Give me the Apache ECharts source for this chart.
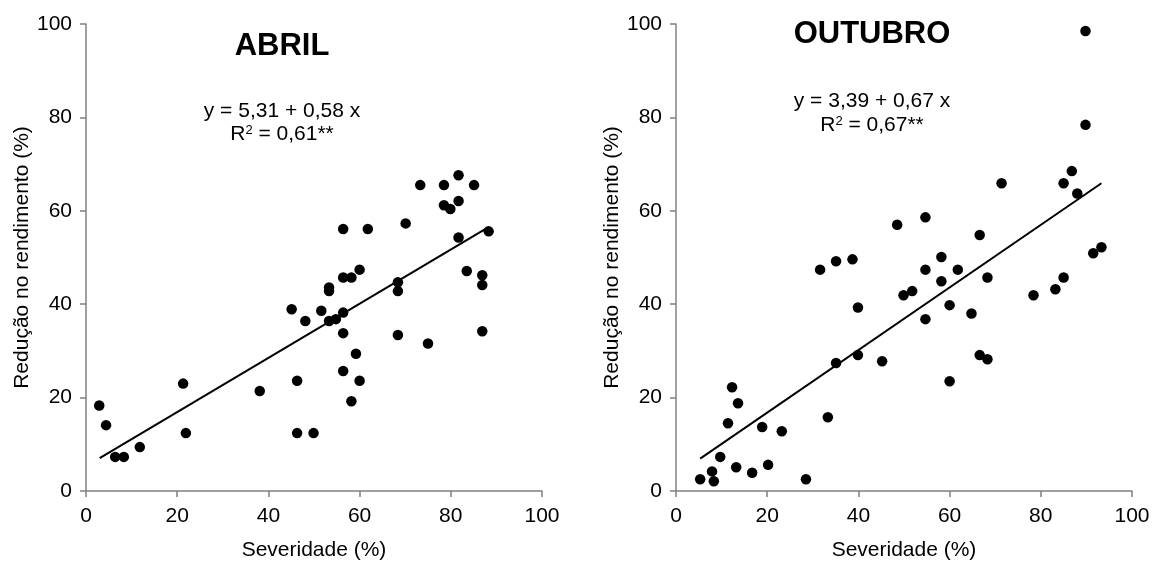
<!DOCTYPE html>
<html>
<head>
<meta charset="utf-8">
<script src="https://cdn.jsdelivr.net/npm/echarts@6/dist/echarts.min.js"></script>
<style>
html,body{margin:0;padding:0;background:#fff;}
#c{width:1155px;height:566px;}
</style>
</head>
<body>
<div id="c"></div>
<script>
// ---- Data ----
var panelTitles = ['ABRIL', 'OUTUBRO'];
var xTicks = [0, 20, 40, 60, 80, 100];
var yTicks = [0, 20, 40, 60, 80, 100];

var abrilSev = [2.9, 4.4, 6.4, 8.3, 11.8, 21.3, 21.9, 38.1, 45.1, 46.3, 46.3, 48.1, 49.9, 51.6, 53.3, 53.3, 53.3, 54.8, 56.4, 56.4, 56.4, 56.4, 56.4, 58.2, 58.2, 59.2, 60.0, 60.0, 61.8, 68.4, 68.4, 68.4, 70.1, 73.3, 75.0, 78.5, 78.5, 79.9, 81.7, 81.7, 81.7, 83.5, 85.1, 86.9, 86.9, 86.9, 88.3];
var abrilRed = [18.3, 14.1, 7.3, 7.3, 9.4, 23.0, 12.4, 21.4, 38.9, 23.6, 12.4, 36.4, 12.4, 38.6, 43.6, 42.8, 36.4, 36.8, 56.1, 45.7, 38.2, 33.8, 25.7, 45.7, 19.2, 29.4, 47.4, 23.6, 56.1, 44.7, 42.8, 33.4, 57.3, 65.5, 31.6, 65.5, 61.2, 60.4, 67.6, 62.1, 54.3, 47.1, 65.5, 46.2, 44.1, 34.2, 55.6];
var abrilCoef = [5.31, 0.58];
var abrilFitX = [3.0, 88.0];
var abrilR2 = '0,61**';
var abrilEq = 'y = 5,31 + 0,58 x';

var outSev = [5.3, 7.9, 8.3, 9.7, 11.4, 12.3, 13.2, 13.6, 16.7, 18.9, 20.2, 23.2, 28.5, 31.6, 33.3, 35.1, 35.1, 38.7, 39.9, 39.9, 45.2, 48.5, 49.9, 51.8, 54.7, 54.7, 54.7, 58.2, 58.2, 60.0, 60.0, 61.8, 64.8, 66.6, 66.6, 68.3, 68.3, 71.4, 78.4, 83.2, 85.0, 85.0, 86.8, 88.0, 89.8, 89.8, 91.5, 93.3];
var outRed = [2.5, 4.2, 2.1, 7.3, 14.5, 22.2, 5.1, 18.8, 3.9, 13.7, 5.6, 12.8, 2.5, 47.4, 15.8, 27.4, 49.2, 49.6, 39.3, 29.1, 27.8, 57.0, 41.9, 42.8, 58.6, 47.4, 36.8, 50.1, 44.9, 39.8, 23.5, 47.4, 38.0, 54.8, 29.1, 45.7, 28.2, 65.9, 41.9, 43.2, 65.9, 45.7, 68.5, 63.7, 98.5, 78.4, 50.9, 52.2];
var outCoef = [3.39, 0.67];
var outFitX = [5.3, 93.3];
var outR2 = '0,67**';
var outEq = 'y = 3,39 + 0,67 x';

var xName = 'Severidade (%)';
var yName = 'Redução no rendimento (%)';

// ---- Build ----
function pairs(xs, ys) { return xs.map(function (x, i) { return [x, ys[i]]; }); }
function fit(xr, c) { return xr.map(function (x) { return [x, c[0] + c[1] * x]; }); }

var FONT = '"Liberation Sans", Arial, sans-serif';
var axisColor = '#808080';

function xAx(idx) {
  return {
    type: 'value', gridIndex: idx, min: 0, max: 100, interval: 20,
    name: xName, nameLocation: 'middle', nameGap: 49,
    nameTextStyle: { fontSize: 21, color: '#000', fontFamily: FONT },
    axisLine: { show: true, onZero: false, lineStyle: { color: axisColor, width: 1.5 } },
    axisTick: { show: true, inside: false, length: 6, lineStyle: { color: axisColor, width: 1.5 } },
    axisLabel: { fontSize: 21, color: '#000', fontFamily: FONT, margin: 15,
      formatter: function (v) { return xTicks.indexOf(v) >= 0 ? String(v) : ''; } },
    splitLine: { show: false }
  };
}
function yAx(idx) {
  return {
    type: 'value', gridIndex: idx, min: 0, max: 100, interval: 20,
    name: yName, nameLocation: 'middle', nameGap: 52, nameRotate: 90,
    nameTextStyle: { fontSize: 21, color: '#000', fontFamily: FONT },
    axisLine: { show: true, onZero: false, lineStyle: { color: axisColor, width: 1.5 } },
    axisTick: { show: true, inside: false, length: 6, lineStyle: { color: axisColor, width: 1.5 } },
    axisLabel: { fontSize: 21, color: '#000', fontFamily: FONT, margin: 14,
      formatter: function (v) { return yTicks.indexOf(v) >= 0 ? String(v) : ''; } },
    splitLine: { show: false }
  };
}

function scat(idx, data) {
  return { type: 'scatter', xAxisIndex: idx, yAxisIndex: idx, data: data,
    symbol: 'circle', symbolSize: 10.5, itemStyle: { color: '#000', opacity: 1 }, silent: true, z: 3 };
}
function line(idx, data) {
  return { type: 'line', xAxisIndex: idx, yAxisIndex: idx, data: data,
    symbol: 'none', lineStyle: { color: '#000', width: 2 }, silent: true, z: 2 };
}

function eqText(cx, cy, txt) {
  return { type: 'text', x: cx, y: cy,
    style: { text: txt, fontSize: 21, fontFamily: FONT, fill: '#000', align: 'center', verticalAlign: 'middle' } };
}
function r2Text(cx, cy, val) {
  return { type: 'text', x: cx, y: cy,
    style: { text: '{a|R}{s|2}{a| = ' + val + '}', fontFamily: FONT, fill: '#000', align: 'center', verticalAlign: 'middle',
      rich: { a: { fontSize: 21, fontFamily: FONT, fill: '#000', verticalAlign: 'middle' },
              s: { fontSize: 13, fontFamily: FONT, fill: '#000', verticalAlign: 'top', padding: [0, 0, 8, 0] } } } };
}
function titleText(cx, cy, txt) {
  return { type: 'text', x: cx, y: cy,
    style: { text: txt, fontSize: 31, fontWeight: 'bold', fontFamily: FONT, fill: '#000', align: 'center', verticalAlign: 'middle' } };
}

var chart = echarts.init(document.getElementById('c'));
chart.setOption({
  animation: false,
  backgroundColor: '#fff',
  grid: [
    { left: 86, right: 613, top: 24, bottom: 74 },
    { left: 676, right: 23, top: 24, bottom: 74 }
  ],
  xAxis: [xAx(0), xAx(1)],
  yAxis: [yAx(0), yAx(1)],
  series: [
    scat(0, pairs(abrilSev, abrilRed)),
    line(0, fit(abrilFitX, abrilCoef)),
    scat(1, pairs(outSev, outRed)),
    line(1, fit(outFitX, outCoef))
  ],
  graphic: [
    titleText(282, 46, panelTitles[0]),
    eqText(282, 111, abrilEq),
    r2Text(282, 134, abrilR2),
    titleText(872, 34, panelTitles[1]),
    eqText(872, 101, outEq),
    r2Text(872, 125, outR2)
  ]
});
</script>
</body>
</html>
